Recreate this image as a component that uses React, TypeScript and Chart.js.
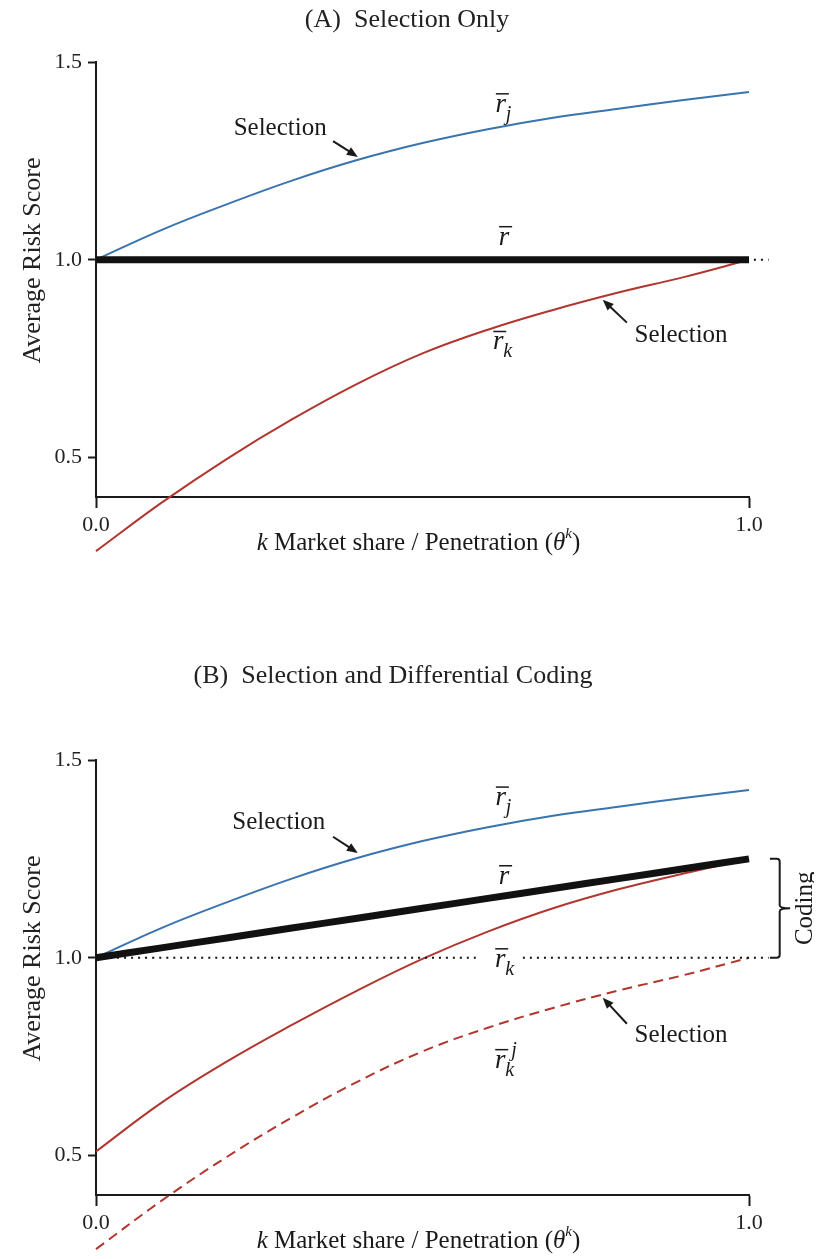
import React, { useEffect, useRef } from "react";
import { Chart, registerables } from "chart.js";

Chart.register(...registerables);

// ---------------- data ----------------
const theta = [0, 0.1, 0.2, 0.3, 0.4, 0.5, 0.6, 0.7, 0.8, 0.9, 1.0];

// Panel A
const rBarA = [1.0, 1.0, 1.0, 1.0, 1.0, 1.0, 1.0, 1.0, 1.0, 1.0, 1.0];
const rJA = [1.0, 1.075, 1.14, 1.2, 1.252, 1.295, 1.33, 1.359, 1.382, 1.404, 1.424];
const rKA = [0.263, 0.385, 0.496, 0.596, 0.686, 0.763, 0.823, 0.873, 0.917, 0.956, 1.0];

// Panel B
const rBarB = [1.0, 1.025, 1.05, 1.075, 1.1, 1.125, 1.15, 1.175, 1.2, 1.225, 1.25];
const rJB = [1.0, 1.075, 1.14, 1.2, 1.252, 1.295, 1.33, 1.359, 1.382, 1.404, 1.424];
const rKB = [0.51, 0.633, 0.737, 0.83, 0.917, 0.997, 1.066, 1.125, 1.173, 1.213, 1.25];
const rKJB = [0.263, 0.385, 0.496, 0.596, 0.686, 0.763, 0.823, 0.873, 0.917, 0.956, 1.0];

// reference line r̄_k = 1.0 (dotted), extended slightly beyond the axis end
const refTheta = [0, 1.03];
const refValues = [1.0, 1.0];

const xTicks = [0, 1];
const yTicks = [0.5, 1.0, 1.5];
const yMin = 0.4;
const yMax = 1.5;

// ---------------- styles ----------------
const SERIF = "'Liberation Serif', 'Times New Roman', serif";
const BLUE = "#3a74ae";
const RED = "#b0372f";
const INK = "#1a1a1a";

const pts = (xs: number[], ys: number[]) => xs.map((x, i) => ({ x, y: ys[i] }));

function drawArrow(ctx: CanvasRenderingContext2D, x1: number, y1: number, x2: number, y2: number) {
  const ang = Math.atan2(y2 - y1, x2 - x1);
  const head = 11;
  const w = 4.5;
  const c = Math.cos(ang);
  const s = Math.sin(ang);
  ctx.save();
  ctx.strokeStyle = INK;
  ctx.fillStyle = INK;
  ctx.lineWidth = 2;
  ctx.beginPath();
  ctx.moveTo(x1, y1);
  ctx.lineTo(x2 - head * 0.8 * c, y2 - head * 0.8 * s);
  ctx.stroke();
  ctx.beginPath();
  ctx.moveTo(x2, y2);
  ctx.lineTo(x2 - head * c + w * s, y2 - head * s - w * c);
  ctx.lineTo(x2 - head * c - w * s, y2 - head * s + w * c);
  ctx.closePath();
  ctx.fill();
  ctx.restore();
}

function drawText(ctx: CanvasRenderingContext2D, text: string, x: number, y: number, size = 25) {
  ctx.save();
  ctx.font = `${size}px ${SERIF}`;
  ctx.fillStyle = INK;
  ctx.textAlign = "center";
  ctx.textBaseline = "middle";
  ctx.fillText(text, x, y);
  ctx.restore();
}

function drawRBar(ctx: CanvasRenderingContext2D, x: number, y: number, sub?: string, sup?: string) {
  ctx.save();
  ctx.fillStyle = INK;
  ctx.strokeStyle = INK;
  ctx.font = `italic 27px ${SERIF}`;
  ctx.textAlign = "center";
  ctx.textBaseline = "alphabetic";
  ctx.fillText("r", x, y);
  ctx.lineWidth = 1.5;
  ctx.beginPath();
  ctx.moveTo(x - 5, y - 18);
  ctx.lineTo(x + 8, y - 18);
  ctx.stroke();
  ctx.textAlign = "left";
  ctx.font = `italic 20px ${SERIF}`;
  if (sub) ctx.fillText(sub, x + 5, y + 8);
  if (sup) ctx.fillText(sup, x + 11, y - 12);
  ctx.restore();
}

function drawXTitle(ctx: CanvasRenderingContext2D, cx: number, baseline: number) {
  const parts = [
    { t: "k", f: `italic 25px ${SERIF}`, dy: 0 },
    { t: " Market share / Penetration (", f: `25px ${SERIF}`, dy: 0 },
    { t: "θ", f: `italic 25px ${SERIF}`, dy: 0 },
    { t: "k", f: `italic 15px ${SERIF}`, dy: -12 },
    { t: ")", f: `25px ${SERIF}`, dy: 0 },
  ];
  ctx.save();
  ctx.fillStyle = INK;
  ctx.textBaseline = "alphabetic";
  ctx.textAlign = "left";
  let total = 0;
  const widths = parts.map((p) => {
    ctx.font = p.f;
    const w = ctx.measureText(p.t).width;
    total += w;
    return w;
  });
  let x = cx - total / 2;
  parts.forEach((p, i) => {
    ctx.font = p.f;
    ctx.fillText(p.t, x, baseline + p.dy);
    x += widths[i];
  });
  ctx.restore();
}

type Px = (v: number) => number;

interface PanelProps {
  height: number;
  top: number;
  title: string;
  titleX: number;
  titleOffset: number;
  datasets: any[];
  annotate: (ctx: CanvasRenderingContext2D, px: Px, py: Px) => void;
}

function Panel({ height, top, title, titleX, titleOffset, datasets, annotate }: PanelProps) {
  const ref = useRef<HTMLCanvasElement | null>(null);
  useEffect(() => {
    if (!ref.current) return;
    const decor = {
      id: "decor",
      afterDatasetsDraw(chart: any) {
        const ctx: CanvasRenderingContext2D = chart.ctx;
        const xs = chart.scales.x;
        const ys = chart.scales.y;
        const area = chart.chartArea;
        const px = (v: number) => xs.getPixelForValue(v);
        const py = (v: number) => ys.getPixelForValue(v);
        // panel title
        ctx.save();
        ctx.font = `26px ${SERIF}`;
        ctx.fillStyle = "#222";
        ctx.textAlign = "center";
        ctx.textBaseline = "alphabetic";
        ctx.fillText(title, titleX, area.top + titleOffset);
        ctx.restore();
        // y title
        ctx.save();
        ctx.translate(25, (area.top + area.bottom) / 2 - 19);
        ctx.rotate(-Math.PI / 2);
        ctx.font = `26px ${SERIF}`;
        ctx.fillStyle = "#222";
        ctx.textAlign = "center";
        ctx.textBaseline = "middle";
        ctx.fillText("Average Risk Score", 0, 0);
        ctx.restore();
        // x title
        drawXTitle(ctx, (area.left + area.right) / 2 - 4, area.bottom + 53);
        annotate(ctx, px, py);
      },
    };
    const chart = new Chart(ref.current, {
      type: "line",
      data: { datasets },
      options: {
        animation: false,
        responsive: false,
        maintainAspectRatio: false,
        layout: { padding: { top, right: 65, left: 0, bottom: 0 } },
        plugins: {
          legend: { display: false },
          title: { display: false },
          tooltip: { enabled: false },
        },
        elements: { point: { radius: 0 } },
        scales: {
          x: {
            type: "linear",
            min: 0,
            max: 1,
            afterBuildTicks: (s: any) => {
              s.ticks = xTicks.map((v) => ({ value: v }));
            },
            afterFit: (s: any) => {
              s.height = height - top - 435;
            },
            grid: {
              drawOnChartArea: false,
              drawTicks: true,
              tickLength: 11,
              tickWidth: 2,
              tickColor: INK,
            },
            border: { display: true, color: INK, width: 2 },
            ticks: {
              font: { family: SERIF, size: 22 },
              color: "#222",
              padding: 4,
              maxRotation: 0,
              callback: (v: any) => Number(v).toFixed(1),
            },
          },
          y: {
            type: "linear",
            min: yMin,
            max: yMax,
            afterBuildTicks: (s: any) => {
              s.ticks = yTicks.map((v) => ({ value: v }));
            },
            afterFit: (s: any) => {
              s.width = 88;
            },
            grid: {
              drawOnChartArea: false,
              drawTicks: true,
              tickLength: 8,
              tickWidth: 2,
              tickColor: INK,
            },
            border: { display: true, color: INK, width: 2 },
            ticks: {
              font: { family: SERIF, size: 22 },
              color: "#222",
              padding: 6,
              callback: (v: any) => Number(v).toFixed(1),
            },
          },
        },
      } as any,
      plugins: [decor],
    });
    return () => chart.destroy();
  }, []);
  return <canvas ref={ref} width={806} height={height} style={{ display: "block", width: 806, height }} />;
}

const common = { pointRadius: 0, fill: false, clip: false as any, tension: 0.4 };

const datasetsA = [
  { ...common, label: "r̄", data: pts(theta, rBarA), borderColor: "#111", borderWidth: 7, borderCapStyle: "butt" },
  { ...common, label: "ref", data: pts(refTheta, refValues), borderColor: "#111", borderWidth: 2, borderDash: [2, 5] },
  { ...common, label: "r̄_j", data: pts(theta, rJA), borderColor: BLUE, borderWidth: 2 },
  { ...common, label: "r̄_k", data: pts(theta, rKA), borderColor: RED, borderWidth: 2 },
];

const datasetsB = [
  { ...common, label: "r̄", data: pts(theta, rBarB), borderColor: "#111", borderWidth: 7, borderCapStyle: "butt" },
  { ...common, label: "ref", data: pts(refTheta, refValues), borderColor: "#111", borderWidth: 2, borderDash: [2, 5] },
  { ...common, label: "r̄_j", data: pts(theta, rJB), borderColor: BLUE, borderWidth: 2 },
  { ...common, label: "r̄_k", data: pts(theta, rKB), borderColor: RED, borderWidth: 2 },
  { ...common, label: "r̄_k^j", data: pts(theta, rKJB), borderColor: RED, borderWidth: 2, borderDash: [10, 6] },
];

function annotateA(ctx: CanvasRenderingContext2D, px: Px, py: Px) {
  drawText(ctx, "Selection", px(0.282), py(1.333));
  drawArrow(ctx, px(0.363), py(1.3), px(0.401), py(1.26));
  drawRBar(ctx, px(0.62), py(1.374), "j");
  drawRBar(ctx, px(0.625), py(1.038));
  drawRBar(ctx, px(0.616), py(0.773), "k");
  drawText(ctx, "Selection", px(0.896), py(0.808));
  drawArrow(ctx, px(0.813), py(0.841), px(0.776), py(0.899));
}

function annotateB(ctx: CanvasRenderingContext2D, px: Px, py: Px) {
  drawText(ctx, "Selection", px(0.28), py(1.343));
  drawArrow(ctx, px(0.363), py(1.306), px(0.401), py(1.265));
  drawRBar(ctx, px(0.62), py(1.386), "j");
  drawRBar(ctx, px(0.625), py(1.187));
  // gap in the dotted line behind the label
  ctx.save();
  ctx.fillStyle = "#fff";
  ctx.fillRect(px(0.585), py(1.0) - 3, px(0.65) - px(0.585), 6);
  ctx.restore();
  drawRBar(ctx, px(0.619), py(0.977), "k");
  drawText(ctx, "Selection", px(0.896), py(0.803));
  drawArrow(ctx, px(0.813), py(0.833), px(0.776), py(0.899));
  drawRBar(ctx, px(0.619), py(0.722), "k", "j");
  // Coding bracket
  const x0 = px(1.032);
  const x1 = px(1.047);
  const x2 = px(1.063);
  const yt = py(1.25);
  const yb = py(1.0);
  const ym = (yt + yb) / 2;
  ctx.save();
  ctx.strokeStyle = INK;
  ctx.lineWidth = 2;
  ctx.beginPath();
  ctx.moveTo(x0, yt);
  ctx.lineTo(x1 - 3, yt);
  ctx.quadraticCurveTo(x1, yt, x1, yt + 3);
  ctx.lineTo(x1, ym - 3);
  ctx.quadraticCurveTo(x1, ym, x2, ym);
  ctx.moveTo(x2, ym);
  ctx.quadraticCurveTo(x1, ym, x1, ym + 3);
  ctx.lineTo(x1, yb - 3);
  ctx.quadraticCurveTo(x1, yb, x1 - 3, yb);
  ctx.lineTo(x0, yb);
  ctx.stroke();
  ctx.translate(px(1.086), ym);
  ctx.rotate(-Math.PI / 2);
  ctx.font = `25px ${SERIF}`;
  ctx.fillStyle = INK;
  ctx.textAlign = "center";
  ctx.textBaseline = "middle";
  ctx.fillText("Coding", 0, 0);
  ctx.restore();
}

export default function App() {
  return (
    <div style={{ width: 806 }}>
      <Panel
        height={640}
        top={54}
        title="(A)  Selection Only"
        titleX={399}
        titleOffset={-35}
        datasets={datasetsA}
        annotate={annotateA}
      />
      <Panel
        height={611}
        top={112}
        title="(B)  Selection and Differential Coding"
        titleX={385}
        titleOffset={-77}
        datasets={datasetsB}
        annotate={annotateB}
      />
    </div>
  );
}
